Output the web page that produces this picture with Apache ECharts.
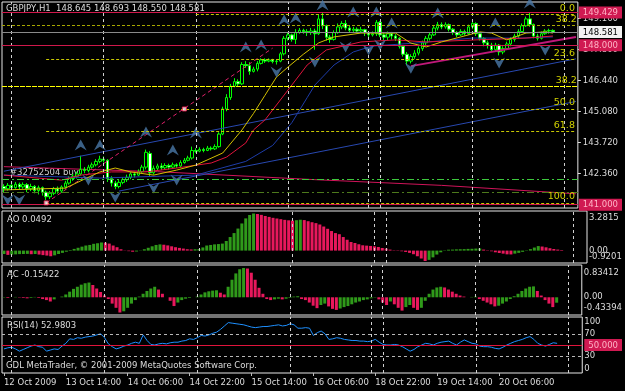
<!DOCTYPE html>
<html><head><meta charset="utf-8">
<script src="https://cdn.jsdelivr.net/npm/echarts@6/dist/echarts.min.js"></script>
<style>html,body{margin:0;padding:0;background:#000;}#c{width:625px;height:391px;}</style>
</head><body><div id="c"></div>
<script>
// ---------------- data ----------------
const NSLOTS = 150;
const timeLabels = [[0,'12 Oct 2009'],[16,'13 Oct 14:00'],[32,'14 Oct 06:00'],[48,'14 Oct 22:00'],[64,'15 Oct 14:00'],[80,'16 Oct 06:00'],[96,'18 Oct 22:00'],[112,'19 Oct 14:00'],[128,'20 Oct 06:00']];
const separators = [2,26,50,74,95,98,122,146];
const priceTicks = [142.36,143.72,145.08,146.44,147.80,149.16];
const priceBoxes = [149.429,148.581,148.000,141.000];
// candles: [open, close, low, high]
const candles = [
[141.80,141.70,141.55,141.90],[141.70,141.85,141.62,141.95],[141.85,141.75,141.66,141.92],[141.75,141.90,141.70,142.00],
[141.90,141.78,141.66,141.97],[141.78,141.88,141.70,141.98],[141.88,141.70,141.55,141.95],[141.70,141.80,141.60,141.92],
[141.80,141.62,141.50,141.86],[141.62,141.75,141.45,141.84],[141.75,141.55,141.40,141.80],[141.55,141.35,141.20,141.62],
[141.35,141.50,141.25,141.60],[141.50,141.70,141.42,141.78],[141.70,141.60,141.48,141.80],[141.60,141.78,141.52,141.85],
[141.78,141.95,141.70,142.05],[141.95,142.15,141.88,142.25],[142.15,142.25,142.05,142.35],[142.25,142.35,142.15,142.45],
[142.35,142.55,142.28,143.15],[142.55,142.50,142.38,142.65],[142.50,142.65,142.42,142.75],[142.65,142.75,142.58,142.85],
[142.75,142.90,142.68,143.00],[142.90,143.00,142.82,143.15],[143.00,142.95,142.85,143.12],[142.95,142.15,142.00,143.00],
[142.15,141.95,141.80,142.25],[141.95,141.80,141.68,142.05],[141.80,141.98,141.72,142.08],[141.98,142.10,141.90,142.20],
[142.10,142.20,142.00,142.32],[142.20,142.35,142.12,142.45],[142.35,142.30,142.20,142.45],[142.30,142.45,142.25,142.55],
[142.45,142.65,142.38,142.75],[142.65,143.30,142.55,143.42],[143.25,142.40,142.25,143.35],[142.40,142.60,142.32,142.72],
[142.60,142.70,142.50,142.80],[142.70,142.62,142.52,142.82],[142.62,142.72,142.55,142.82],[142.72,142.65,142.55,142.80],
[142.65,142.75,142.58,142.85],[142.75,142.70,142.62,142.82],[142.70,142.85,142.65,142.95],[142.85,142.95,142.80,143.05],
[142.95,143.05,142.90,143.15],[143.05,143.38,142.98,143.55],[143.38,143.35,143.28,143.48],[143.35,143.42,143.30,143.52],
[143.42,143.38,143.30,143.50],[143.38,143.48,143.35,143.58],[143.48,143.45,143.38,143.56],[143.45,143.55,143.40,143.65],
[143.55,144.10,143.50,144.18],[144.10,145.20,144.05,145.30],[145.20,145.70,145.10,145.85],[145.70,146.20,145.60,146.30],
[146.20,146.40,146.15,146.55],[146.40,146.30,146.20,146.50],[146.30,147.15,146.25,147.25],[147.15,147.10,147.00,147.30],
[147.10,146.85,146.70,147.25],[146.85,146.95,146.80,147.05],[146.95,147.20,146.85,147.30],[147.20,147.35,147.15,147.42],
[147.35,147.30,147.22,147.42],[147.30,147.35,147.25,147.42],[147.35,147.28,147.20,147.40],[147.28,147.30,147.15,147.38],
[147.30,147.62,147.25,147.70],[147.62,148.30,147.55,148.40],[148.30,148.45,148.20,148.55],[148.45,148.25,148.15,148.50],
[148.25,148.55,148.05,148.70],[148.55,148.65,148.50,148.75],[148.65,148.60,148.50,148.72],[148.60,148.55,148.40,148.70],
[148.55,148.62,148.45,148.75],[148.62,148.50,147.80,148.72],[148.50,149.15,148.45,149.35],[149.15,148.85,148.70,149.43],
[148.85,148.35,148.20,148.90],[148.35,148.25,148.10,148.45],[148.25,148.55,148.20,148.65],[148.55,148.80,148.50,148.95],
[148.80,148.95,148.70,149.05],[148.95,148.75,148.65,149.10],[148.75,148.65,148.55,148.85],[148.65,148.70,148.58,148.80],
[148.70,148.62,148.52,148.78],[148.62,148.68,148.55,148.80],[148.68,148.55,148.40,148.72],[148.55,148.45,148.35,148.60],
[148.45,148.50,148.38,148.60],[148.50,149.00,148.40,149.10],[149.00,148.45,148.35,149.05],[148.45,148.35,148.20,148.52],
[148.35,148.50,148.22,148.60],[148.50,148.40,148.25,148.58],[148.40,148.30,148.18,148.48],[148.30,147.95,147.85,148.35],
[147.95,147.60,147.50,148.00],[147.60,147.30,147.12,147.70],[147.30,147.50,147.20,147.60],[147.50,147.65,147.40,147.78],
[147.65,147.85,147.55,147.95],[147.85,148.10,147.75,148.20],[148.10,148.30,148.00,148.40],[148.30,148.45,148.20,148.55],
[148.45,148.75,148.40,148.85],[148.75,148.90,148.65,149.02],[148.90,148.80,148.70,149.00],[148.80,148.90,148.72,149.00],
[148.90,148.70,148.60,148.95],[148.70,148.55,148.45,148.75],[148.55,148.45,148.35,148.62],[148.45,148.60,148.40,148.70],
[148.60,148.50,148.42,148.68],[148.50,148.80,148.45,148.90],[148.80,148.95,148.70,149.05],[148.95,148.50,148.40,149.00],
[148.50,148.30,148.20,148.55],[148.30,148.10,147.95,148.35],[148.10,148.00,147.85,148.20],[148.00,147.80,147.70,148.10],
[147.80,148.00,147.72,148.10],[148.00,147.70,147.55,148.05],[147.70,147.85,147.60,147.95],[147.85,148.05,147.80,148.15],
[148.05,148.25,147.95,148.35],[148.25,148.40,148.15,148.50],[148.40,148.60,148.30,148.70],[148.60,148.85,148.55,148.95],
[148.85,149.15,148.80,149.25],[149.15,148.90,148.80,149.42],[148.90,148.40,148.30,148.95],[148.40,148.30,148.20,148.50],
[148.30,148.50,148.25,148.60],[148.50,148.62,148.45,148.70],[148.62,148.645,148.50,148.72],[148.645,148.581,148.550,148.693]
];
// moving averages and lines: [barIndex, price]
const maYellow = [[0,141.65],[16,141.73],[25,142.44],[29,142.61],[33,142.44],[39,142.30],[45,142.52],[50,142.74],[57,143.27],[62,144.28],[65,145.00],[68,145.80],[71,146.60],[74,147.04],[78,147.60],[82,148.10],[86,148.36],[93,148.53],[102,148.53],[106,148.09],[110,147.92],[114,148.14],[119,148.36],[124,148.58],[127,148.53],[131,148.23],[136,148.53],[141,148.58],[143,148.53]];
const maCrimson = [[0,142.30],[15,142.08],[20,142.30],[28,142.44],[37,142.44],[45,142.61],[54,142.83],[58,143.09],[63,143.71],[65,144.28],[68,144.72],[74,146.03],[79,147.13],[84,147.79],[93,148.14],[102,148.23],[110,148.14],[123,148.23],[136,148.31],[143,148.40]];
const maBlue = [[0,142.30],[25,142.17],[50,142.30],[63,142.90],[70,143.60],[75,144.60],[79,145.70],[81,146.25],[86,147.13],[91,147.70],[96,147.96],[107,148.09],[122,148.31],[135,148.31],[143,148.36]];
const maLong = [[0,142.67],[40,142.45],[81,142.10],[114,141.85],[149,141.48]];
const trendA = [[0,142.47],[149,147.40]];
const trendB = [[30,141.60],[149,145.53]];
const trendRed = [[106,147.08],[149,148.36]];
const tradeLine = [[11,141.08],[70,147.87]];
const tradeMarks = [[11,141.08],[47,145.20]];
const fractalUp = [[20,143.62],[25,143.62],[37,144.19],[44,143.40],[50,144.15],[63,147.92],[67,148.01],[73,149.10],[76,149.19],[83,149.76],[91,149.45],[97,149.45],[101,148.97],[113,149.41],[128,148.97],[137,149.85]];
const fractalDown = [[1,141.21],[4,141.21],[22,142.08],[29,141.34],[39,141.73],[45,142.08],[71,146.82],[81,147.26],[89,147.92],[95,147.79],[98,148.01],[106,146.99],[129,147.22],[141,147.79]];
// fibonacci levels [label, price, startBar]
const fibLevels = [['0.0',149.34,50],['23.6',147.39,11],['50.0',145.21,11],['61.8',144.23,11],['100.0',141.08,11]];
const fibMain382 = 146.18, fibTop382 = 148.87;
const ao = [-0.30,-0.38,-0.36,-0.33,-0.31,-0.30,-0.29,-0.32,-0.30,-0.35,
-0.40,-0.44,-0.50,-0.42,-0.30,-0.20,-0.10,0.05,0.15,0.25,
0.35,0.45,0.50,0.60,0.65,0.72,0.70,0.62,0.45,0.30,
0.12,0.02,-0.05,-0.10,-0.08,0.02,0.12,0.25,0.38,0.50,
0.55,0.52,0.46,0.38,0.30,0.24,0.18,0.12,0.10,0.12,
0.14,0.28,0.45,0.50,0.55,0.58,0.62,0.85,1.20,1.55,
1.95,2.40,2.85,3.15,3.2815,3.24,3.16,3.06,2.98,2.90,
2.84,2.78,2.72,2.68,2.65,2.69,2.73,2.70,2.60,2.51,
2.43,2.31,2.13,1.93,1.73,1.55,1.45,1.20,0.96,0.76,
0.67,0.56,0.47,0.44,0.41,0.38,0.32,0.23,0.18,0.09,
0.03,-0.03,-0.06,-0.12,-0.20,-0.32,-0.50,-0.70,-0.9201,-0.82,
-0.60,-0.35,-0.15,0.03,0.08,0.09,0.11,0.12,0.13,0.15,
0.16,0.18,0.19,0.09,0.03,-0.06,-0.15,-0.21,-0.27,-0.33,
-0.34,-0.27,-0.20,-0.11,0.03,0.13,0.27,0.40,0.36,0.29,
0.21,0.14,0.09,0.0492];
const ac = [-0.01,-0.02,0.00,0.01,-0.01,-0.02,-0.03,-0.02,0.01,-0.02,
-0.05,-0.08,-0.12,-0.06,0.00,0.02,0.08,0.16,0.24,0.30,
0.36,0.40,0.42,0.35,0.25,0.15,0.05,-0.05,-0.18,-0.30,
-0.43394,-0.40,-0.30,-0.18,-0.08,0.02,0.10,0.18,0.25,0.30,
0.22,0.10,0.00,-0.10,-0.25,-0.15,-0.08,-0.04,-0.02,0.00,
0.02,0.08,0.14,0.17,0.19,0.20,0.13,0.08,0.30,0.50,
0.68,0.80,0.83412,0.82,0.70,0.50,0.27,0.10,-0.05,-0.08,
-0.06,-0.04,-0.06,-0.04,-0.02,0.02,0.03,-0.05,-0.08,-0.15,
-0.24,-0.31,-0.22,-0.18,-0.26,-0.33,-0.36,-0.32,-0.28,-0.25,
-0.20,-0.15,-0.12,-0.08,-0.06,-0.03,-0.01,-0.06,-0.15,-0.22,
-0.12,-0.20,-0.30,-0.38,-0.28,-0.22,-0.30,-0.36,-0.30,-0.10,
0.10,0.22,0.28,0.30,0.28,0.22,0.16,0.10,0.05,0.02,
0.00,0.01,0.02,-0.05,-0.10,-0.15,-0.20,-0.26,-0.24,-0.18,
-0.12,-0.05,0.03,0.10,0.18,0.25,0.30,0.31,0.18,0.05,
-0.08,-0.18,-0.28,-0.15422];
const rsi = [43,45,46,43,39,42,45,48,50,47,46,39,41,43,42,48,
53,61,60,63,62,64,65,66,68,70,
63,52,47,43,45,48,50,53,55,53,68,
58,51,50,52,53,52,54,55,55,57,58,61,60,63,
67,66,68,71,73,78,84,90,89,88,87,86,
84,82,81,82,83,83,84,85,86,84,85,88,86,
80,80,81,80,67,72,75,70,60,61,63,
62,60,59,58,58,57,57,56,57,60,55,51,50,
50,51,50,47,43,39,42,47,50,53,52,50,53,55,56,57,
53,50,55,59,56,53,52,48,47,47,46,44,43,46,50,
53,56,58,60,63,65,60,53,50,48,51,54,52.9803];
// indicator scale labels: [top-aligned, middle, bottom-aligned]
const aoLabels = [[3.2815],[0],[-0.9201]];
const acLabels = [[0.83412],[0],[-0.43394]];
const rsiLabels = [[100],[70,50,30],[0]];

// ---------------- chart ----------------
const FONT = 'DejaVu Sans';
const FS = 8.5;
const TXT = '#dcdcdc';
const GREEN = '#2f9a1a', RED = '#e8185c';
const cats = Array.from({length: NSLOTS}, (_, i) => String(i));
const labelMap = new Map(timeLabels);
const GL = 2, GW = 585;
const gridDefs = [[2,206],[211,52],[265,50],[317,56]];
const grids = gridDefs.map(([t,h]) => ({left:GL, top:t, width:GW, height:h, show:true, borderColor:'#e6e6e6', borderWidth:1, backgroundColor:'transparent'}));
const xAxes = gridDefs.map((g,i) => {
  const ax = {type:'category', gridIndex:i, data:cats, boundaryGap:true, axisLine:{show:false}, axisTick:{show:false}, axisLabel:{show:false}, splitLine:{show:false}};
  if (i === 3) {
    ax.axisLabel = {show:true, hideOverlap:false, interval:(idx)=>labelMap.has(idx), formatter:(v,idx)=>labelMap.get(Number(v)) || '', align:'left', margin:5, color:TXT, fontSize:FS, fontFamily:FONT};
    ax.axisTick = {show:true, interval:(idx)=>labelMap.has(idx), alignWithLabel:true, length:3, lineStyle:{color:'#bbbbbb'}};
  }
  return ax;
});
const MAIN_MIN = 140.857, MAIN_MAX = 149.892;
const rt = (extra) => Object.assign({color:TXT, fontSize:FS, fontFamily:FONT}, extra||{});
const plainAxis = (gi, min, max, values, vAlign, fmt, rich) => ({type:'value', gridIndex:gi, position:'right', min, max, z:10,
  splitLine:{show:false}, axisLine:{show:false}, axisTick:{show:false},
  axisLabel:{customValues:values, hideOverlap:false, margin:2, color:TXT, fontSize:FS, fontFamily:FONT, verticalAlign:vAlign, formatter:fmt, rich:rich||{}}});
const aoFmt = v => v===0 ? '0.00' : String(v);
const rsiFmt = v => v===50 ? '{r|50.000}' : String(v);
const rsiRich = {r:rt({backgroundColor:'#d01a52', color:'#ffb4c6', padding:[2,4,1,4]})};
const yAxes = [
  {type:'value', gridIndex:0, position:'right', min:MAIN_MIN, max:MAIN_MAX, splitLine:{show:false}, axisLine:{show:false},
   axisTick:{show:true, customValues:priceTicks, length:3, lineStyle:{color:TXT}},
   axisLabel:{customValues:priceTicks, hideOverlap:false, formatter:v=>v.toFixed(3), margin:5, color:TXT, fontSize:FS, fontFamily:FONT}},
  {type:'value', gridIndex:0, position:'right', min:MAIN_MIN, max:MAIN_MAX, z:10, splitLine:{show:false}, axisLine:{show:false}, axisTick:{show:false},
   axisLabel:{customValues:priceBoxes, hideOverlap:false, margin:1, fontSize:FS, fontFamily:FONT,
     formatter:v=> (Math.abs(v-148.581)<1e-6 ? '{w|' : '{p|') + v.toFixed(3) + '}',
     rich:{w:rt({backgroundColor:'#f2f2f2', color:'#000', padding:[2,4,1,4]}),
           p:rt({backgroundColor:'#d01a52', color:'#ffb4c6', padding:[2,4,1,4]})}}},
  // AO: 2,3,4
  plainAxis(1, -1.097, 3.503, aoLabels[0], 'top', aoFmt),
  plainAxis(1, -1.097, 3.503, aoLabels[1], 'middle', aoFmt),
  plainAxis(1, -1.097, 3.503, aoLabels[2], 'bottom', aoFmt),
  // AC: 5,6,7
  plainAxis(2, -0.505, 0.92, acLabels[0], 'top', aoFmt),
  plainAxis(2, -0.505, 0.92, acLabels[1], 'middle', aoFmt),
  plainAxis(2, -0.505, 0.92, acLabels[2], 'bottom', aoFmt),
  // RSI: 8,9,10
  plainAxis(3, 0, 100, rsiLabels[0], 'top', rsiFmt, rsiRich),
  plainAxis(3, 0, 100, rsiLabels[1], 'middle', rsiFmt, rsiRich),
  plainAxis(3, 0, 100, rsiLabels[2], 'bottom', rsiFmt, rsiRich)
];

const sepStyle = {color:'#d0d0d0', type:[3,3], width:1};
const sepLines = separators.map(s => ({xAxis:String(s), lineStyle:sepStyle}));
function hline(v, color, type, width) { return {yAxis:v, lineStyle:{color:color, type:type||'solid', width:width||1}}; }
const fibColor = '#c8c800';
const fibLab = {show:true, position:'insideEndTop', color:'#d2d200', fontSize:9.5, fontFamily:FONT, distance:[1,1]};
const mainMarks = [].concat(sepLines, [
  hline(149.429, '#d0184c'),
  hline(148.581, '#8a8a8a'),
  hline(148.000, '#d0184c'),
  hline(141.000, '#d0184c'),
  hline(142.12, '#3cc83c', [7,3,2,3]),
  hline(141.53, '#4d7a1c', [7,3,2,3]),
  {yAxis:fibMain382, lineStyle:{color:'#ffff00', type:[5,1], width:1}, label:Object.assign({}, fibLab, {formatter:'38.2'})},
  {yAxis:fibTop382, lineStyle:{color:'#a8a800', type:[3,2], width:1}, label:Object.assign({}, fibLab, {formatter:'38.2'})}
], fibLevels.map(([lab, p, s]) => [
  {coord:[String(s), p], lineStyle:{color:fibColor, type:[3,2], width:1}, label:Object.assign({}, fibLab, {formatter:lab})},
  {coord:[String(NSLOTS-1), p]}
]));
const mk = (data) => ({symbol:['none','none'], silent:true, animation:false, label:{show:false}, data:data});
const lineSeries = (name, data, color, width, extra) => Object.assign({name, type:'line', xAxisIndex:0, yAxisIndex:0, data, symbol:'none', smooth:false, z:3,
  lineStyle:{color, width:width||1}, itemStyle:{color}}, extra||{});
const colorize = (arr) => arr.map((v,i) => ({value:v, itemStyle:{color: (i===0 || v>arr[i-1]) ? GREEN : RED}}));
const upSym = 'path://M5,0 L10,10 L5,6.5 L0,10 Z';
const dnSym = 'path://M0,0 L5,3.5 L10,0 L5,10 Z';
const txt = (t, l, tp, fill) => ({type:'text', left:l, top:tp, z:0, style:{text:t, fill:fill||TXT, font:FS+'px "'+FONT+'"'}});

const option = {
  backgroundColor:'#000000',
  animation:false,
  grid:grids, xAxis:xAxes, yAxis:yAxes,
  graphic:[
    txt('GBPJPY,H1  148.645 148.693 148.550 148.581', 6, 4),
    txt('#32752504 buy', 10, 168, '#cfcfcf'),
    txt('AO 0.0492', 7, 215),
    txt('AC -0.15422', 7, 270),
    txt('RSI(14) 52.9803', 7, 321),
    txt('GDL MetaTrader, \u00a9 2001-2009 MetaQuotes Software Corp.', 6, 361)
  ],
  series:[
    {name:'guides', type:'line', xAxisIndex:0, yAxisIndex:0, data:[], z:1, markLine:mk(mainMarks)},
    lineSeries('ma200', maLong, '#d0145a', 1, {z:1}),
    lineSeries('trendA', trendA, '#2848b0', 1),
    lineSeries('trendB', trendB, '#2848b0', 1),
    lineSeries('trendRed', trendRed, '#c0187a', 2),
    lineSeries('trade', tradeLine, '#e0206a', 1, {lineStyle:{color:'#e0206a', width:1, type:[4,3]}}),
    {name:'candles', type:'candlestick', xAxisIndex:0, yAxisIndex:0, data:candles, barWidth:3, z:2,
     itemStyle:{color:'#000000', color0:'#ffffff', borderColor:'#00ff00', borderColor0:'#00ff00', borderWidth:1}},
    lineSeries('maBlue', maBlue, '#1e3ca8', 1),
    lineSeries('maCrimson', maCrimson, '#e0143c', 1),
    lineSeries('maYellow', maYellow, '#d4c000', 1),
    {name:'tradeMarks', type:'scatter', xAxisIndex:0, yAxisIndex:0, data:tradeMarks, symbol:'rect', symbolSize:4, z:5,
     itemStyle:{color:'#ffffff', borderColor:'#ff2050', borderWidth:1}},
    {name:'fracUp', type:'scatter', xAxisIndex:0, yAxisIndex:0, data:fractalUp, symbol:upSym, symbolSize:[12,11], z:4,
     itemStyle:{color:'#4a78a8'}},
    {name:'fracDn', type:'scatter', xAxisIndex:0, yAxisIndex:0, data:fractalDown, symbol:dnSym, symbolSize:[12,11], z:4,
     itemStyle:{color:'#4a78a8'}},
    {name:'AO', type:'bar', xAxisIndex:1, yAxisIndex:2, data:colorize(ao), barWidth:3, markLine:mk(sepLines)},
    {name:'AC', type:'bar', xAxisIndex:2, yAxisIndex:5, data:colorize(ac), barWidth:3, markLine:mk(sepLines)},
    {name:'RSI', type:'line', xAxisIndex:3, yAxisIndex:8, data:rsi, symbol:'none', lineStyle:{color:'#1e90ff', width:1}, itemStyle:{color:'#1e90ff'}, z:3,
     markLine:mk([].concat(sepLines, [hline(70,'#b8b8b8',[3,3]), hline(30,'#b8b8b8',[3,3]), hline(50,'#e0143c')]))}
  ]
};
const chart = echarts.init(document.getElementById('c'));
chart.setOption(option);
</script>
</body></html>
